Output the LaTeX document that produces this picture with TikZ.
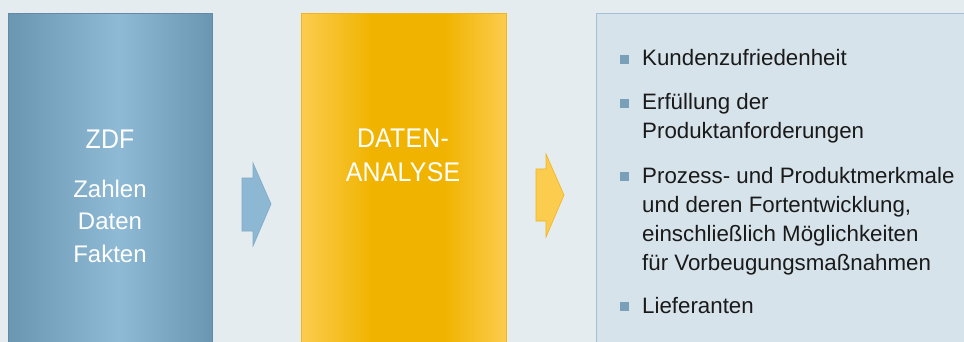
\documentclass[tikz,border=0pt]{standalone}
\usepackage{fontspec}
\newfontfamily\headf{Liberation Sans}[FakeStretch=0.92,LetterSpace=1]
\newfontfamily\bodyf{Liberation Sans}
\definecolor{bgc}{HTML}{E4ECF0}
\definecolor{bA}{HTML}{6B96B2}
\definecolor{bB}{HTML}{8EBAD5}
\definecolor{bBorder}{HTML}{5F8AA8}
\definecolor{yA}{HTML}{FCCC4E}
\definecolor{yB}{HTML}{F0B400}
\definecolor{yBorder}{HTML}{F0B41E}
\definecolor{pFill}{HTML}{D6E3EA}
\definecolor{pBorder}{HTML}{A3C0D6}
\definecolor{bul}{HTML}{7A9FB8}
\definecolor{txt}{HTML}{1A1A1A}
\definecolor{arrB}{HTML}{8DB8D3}
\definecolor{arrBb}{HTML}{7FA9C6}
\pgfdeclarehorizontalshading{bluebar}{100bp}{color(0bp)=(bA); color(25bp)=(bA); color(52bp)=(bB); color(75bp)=(bA); color(100bp)=(bA)}
\pgfdeclarehorizontalshading{yellowbar}{100bp}{color(0bp)=(yA); color(25bp)=(yA); color(42bp)=(yB); color(60bp)=(yB); color(75bp)=(yA); color(100bp)=(yA)}
\tikzset{
  colbox/.style={anchor=north west, inner sep=0pt, line width=0.8pt},
  headtxt/.style={anchor=base, inner sep=0pt, text=white, font=\headf\fontsize{27}{34}\selectfont},
  subtxt/.style={anchor=base, inner sep=0pt, text=white, font=\bodyf\fontsize{24}{32}\selectfont},
  listtxt/.style={anchor=base west, inner sep=0pt, text=txt, font=\bodyf\fontsize{22.3}{28.7}\selectfont},
  bulletsq/.style={fill=bul, inner sep=0pt, minimum size=9pt, anchor=south west},
}
\begin{document}
\begin{tikzpicture}[x=1pt,y=-1pt]
\useasboundingbox (0,0) rectangle (964,342);
\clip (0,0) rectangle (964,342);
\fill[bgc] (0,0) rectangle (964,342);
% boxes
\node[colbox, draw=bBorder, shading=bluebar, minimum width=204pt, minimum height=345pt] (b1) at (8,13) {};
\node[colbox, draw=yBorder, shading=yellowbar, minimum width=205pt, minimum height=345pt] (b2) at (301,13) {};
\node[colbox, draw=pBorder, fill=pFill, minimum width=380pt, minimum height=345pt] (b3) at (596,13) {};
% arrows
\filldraw[fill=arrB, draw=arrBb, line width=0.6pt] (242,178) -- (253,178) -- (253,163) -- (271,204) -- (253,246) -- (253,231) -- (242,231) -- cycle;
\filldraw[fill=yA, draw=yBorder, line width=0.6pt] (536,169) -- (546,169) -- (546,154) -- (564,195) -- (546,237) -- (546,221) -- (536,221) -- cycle;
% box 1 text
\node[headtxt] (zdf) at (110,148.5) {ZDF};
\node[subtxt] (zahlen) at (110,197) {Zahlen};
\node[subtxt] (daten) at (110,229) {Daten};
\node[subtxt] (fakten) at (110,262) {Fakten};
% box 2 text
\node[headtxt] (dat1) at (403,148) {DATEN-};
\node[headtxt] (dat2) at (403,182) {ANALYSE};
% list
\node[bulletsq] (q1) at (620,64) {};
\node[listtxt] (l1) at (642,66) {Kundenzufriedenheit};
\node[bulletsq] (q2) at (620,108) {};
\node[listtxt] (l2) at (642,110) {Erfüllung der};
\node[listtxt] (l2b) at (642,138.5) {Produktanforderungen};
\node[bulletsq] (q3) at (620,181) {};
\node[listtxt] (l3) at (642,183) {Prozess- und Produktmerkmale};
\node[listtxt] (l3b) at (642,212) {und deren Fortentwicklung,};
\node[listtxt] (l3c) at (642,241) {einschließlich Möglichkeiten};
\node[listtxt] (l3d) at (642,270) {für Vorbeugungsmaßnahmen};
\node[bulletsq] (q4) at (620,311) {};
\node[listtxt] (l4) at (642,313) {Lieferanten};
\end{tikzpicture}
\end{document}
